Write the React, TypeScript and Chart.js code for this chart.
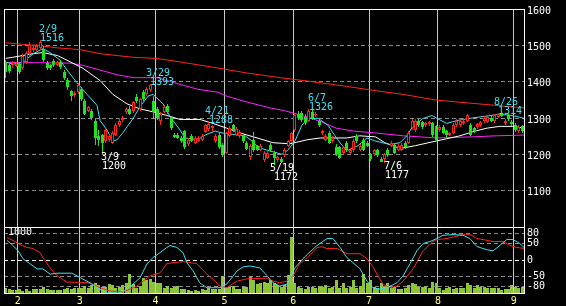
import React, { useEffect, useRef } from 'react';
import { Chart, registerables } from 'chart.js';
Chart.register(...registerables);

const FONT = "'DejaVu Sans Mono', monospace";
const RED = '#ff2418';
const GREEN = '#22e022';
const CYAN = '#40e0f0';
const MAGENTA = '#ff20ff';
const VOL_GREEN = '#8cc43c';

// Trading-day index of the first session of each month, and the month labels
const MONTH_START = [4, 22, 44, 64, 84, 106, 126, 148];
const MONTH_LABELS = ['2', '3', '4', '5', '6', '7', '8', '9'];

// Daily candles: [open, high, low, close]
const CANDLES: number[][] = [
  [1453,1460,1411,1427],[1445,1450,1425,1430],[1446,1458,1438,1450],[1443,1455,1440,1450],[1448,1452,1420,1427],
  [1437,1475,1432,1470],[1453,1485,1450,1478],[1477,1508,1470,1502],[1488,1500,1482,1493],[1487,1504,1484,1498],
  [1493,1516,1488,1510],[1490,1498,1455,1460],[1452,1458,1432,1438],[1445,1450,1432,1438],[1458,1462,1440,1446],
  [1447,1458,1442,1453],[1454,1460,1435,1440],[1427,1432,1404,1411],[1405,1410,1378,1384],[1373,1378,1347,1360],
  [1362,1375,1358,1370],[1371,1397,1366,1392],[1379,1384,1348,1352],[1347,1352,1308,1312],[1320,1334,1316,1331],
  [1320,1325,1294,1299],[1291,1296,1227,1245],[1250,1268,1222,1240],[1253,1256,1200,1232],[1237,1272,1230,1267],
  [1240,1256,1235,1251],[1232,1264,1228,1259],[1253,1285,1250,1280],[1280,1300,1275,1293],[1295,1306,1290,1300],
  [1317,1330,1312,1325],[1325,1333,1308,1312],[1320,1348,1315,1344],[1357,1365,1342,1347],[1325,1356,1320,1352],
  [1371,1376,1348,1352],[1365,1384,1360,1379],[1376,1393,1372,1390],[1347,1360,1299,1317],[1325,1330,1295,1299],
  [1293,1316,1280,1312],[1317,1336,1314,1331],[1334,1339,1312,1317],[1299,1304,1268,1272],[1253,1258,1244,1248],
  [1253,1259,1242,1245],[1245,1250,1232,1237],[1264,1268,1215,1219],[1228,1244,1222,1240],[1251,1255,1234,1237],
  [1232,1250,1228,1245],[1238,1250,1234,1245],[1240,1256,1236,1251],[1262,1284,1258,1280],[1270,1288,1265,1284],
  [1272,1282,1265,1278],[1237,1256,1232,1251],[1253,1262,1215,1219],[1227,1232,1192,1197],[1205,1262,1200,1259],
  [1251,1278,1248,1272],[1280,1284,1262,1267],[1253,1275,1250,1270],[1250,1268,1245,1262],[1253,1258,1230,1237],
  [1232,1236,1212,1216],[1192,1228,1184,1224],[1240,1262,1206,1211],[1222,1226,1208,1213],[1213,1228,1208,1224],
  [1184,1210,1180,1205],[1190,1210,1186,1205],[1227,1232,1206,1211],[1205,1210,1172,1190],[1185,1196,1180,1192],
  [1187,1192,1176,1180],[1197,1218,1192,1213],[1224,1240,1220,1237],[1237,1262,1232,1259],[1267,1312,1262,1307],
  [1312,1318,1294,1299],[1315,1320,1290,1295],[1304,1310,1282,1285],[1293,1326,1288,1320],[1317,1322,1294,1299],
  [1307,1316,1302,1312],[1291,1295,1276,1280],[1259,1268,1254,1264],[1240,1256,1236,1251],[1259,1264,1228,1232],
  [1237,1250,1232,1245],[1219,1228,1196,1200],[1219,1224,1186,1190],[1205,1222,1200,1219],[1232,1236,1206,1211],
  [1205,1218,1200,1213],[1211,1242,1206,1237],[1251,1256,1232,1237],[1213,1228,1210,1224],[1240,1245,1208,1213],
  [1232,1236,1220,1224],[1200,1205,1182,1187],[1200,1215,1196,1211],[1211,1216,1192,1197],[1187,1192,1178,1180],
  [1187,1205,1177,1200],[1213,1218,1192,1197],[1224,1236,1220,1232],[1227,1232,1200,1205],[1211,1228,1208,1224],
  [1213,1232,1210,1227],[1232,1236,1215,1219],[1232,1264,1228,1259],[1272,1296,1268,1291],[1267,1296,1262,1291],
  [1293,1297,1276,1280],[1288,1292,1270,1275],[1280,1290,1276,1285],[1283,1293,1279,1288],[1285,1290,1248,1253],
  [1277,1282,1236,1240],[1267,1280,1262,1275],[1275,1280,1255,1259],[1264,1268,1248,1253],[1253,1262,1250,1259],
  [1259,1285,1255,1280],[1280,1298,1275,1293],[1280,1298,1276,1293],[1285,1300,1280,1293],[1293,1312,1290,1307],
  [1280,1285,1250,1253],[1272,1276,1260,1264],[1275,1287,1270,1283],[1280,1292,1276,1288],[1291,1305,1287,1301],
  [1288,1308,1285,1304],[1301,1305,1288,1293],[1291,1310,1287,1307],[1303,1314,1300,1311],[1312,1313,1302,1306],
  [1285,1297,1280,1293],[1307,1310,1292,1296],[1290,1295,1278,1283],[1280,1285,1262,1267],[1265,1280,1260,1275],
  [1277,1282,1258,1264],
];

// Daily volume (thousand shares)
const VOLUME = [
  70,60,45,45,55,35,55,35,55,65, 65,85,60,50,40,40,45,65,80,65,
  70,80,80,105,70,120,145,120,85,95, 135,120,70,95,120,145,285,135,70,105,
  220,195,205,170,145,145,80,105,70,95, 105,55,55,45,35,45,35,65,45,70,
  65,60,60,255,95,95,105,55,55,85, 95,245,195,135,145,160,145,195,145,120,
  95,120,270,845,145,95,70,55,95,95, 70,105,95,120,70,95,195,70,145,70,
  95,195,80,110,295,145,195,95,70,145, 95,145,70,95,60,60,80,120,145,135,
  95,95,105,70,170,155,70,45,70,95, 60,70,70,70,145,120,70,120,95,95,
  70,70,70,70,45,55,55,120,95,70, 95,
];
const VOL_MAX = 1000;

// Moving averages: [day index, price]
const MA_SHORT = [
  [0.4,1453],[2.1,1448],[5,1453],[8,1477],[10.8,1491],[12.9,1480],[15.8,1459],[17.8,1432],[20.7,1397],[23.6,1365],
  [26.5,1335],[27.4,1293],[29.4,1267],[31.1,1237],[32.3,1240],[34,1259],[37,1299],[39,1331],[41.3,1360],[42.8,1365],
  [45.7,1339],[47.7,1304],[50.6,1267],[52.1,1245],[55.8,1240],[57.9,1253],[60.8,1264],[62.8,1259],[67.4,1253],[69.5,1251],
  [71.5,1237],[73.3,1219],[76.1,1211],[80.2,1200],[81.9,1211],[84,1237],[86,1280],[87.8,1299],[90.7,1299],[93.6,1280],
  [95.6,1251],[97.7,1224],[99.4,1211],[102.3,1224],[104.9,1245],[107.2,1237],[111.6,1227],[114.5,1232],[116.5,1251],[118.2,1277],
  [121.2,1299],[123.8,1307],[125.2,1299],[128.1,1285],[131,1293],[134.8,1299],[138.6,1304],[142.6,1309],[145.5,1309],[148.5,1304],
  [150.5,1299],
];
const MA_MID = [
  [0,1464],[2,1467],[8,1477],[10.8,1480],[15,1472],[17.8,1459],[22.4,1437],[27.4,1403],[31.1,1365],[35.2,1339],
  [39,1325],[42.8,1317],[46.8,1307],[50.6,1296],[56.4,1296],[60.2,1285],[64.2,1272],[68,1259],[73,1245],[77.6,1232],
  [82.5,1229],[87.5,1240],[91.3,1245],[99,1245],[102.8,1251],[107.4,1248],[110.1,1232],[114.5,1216],[119,1224],[125.2,1237],
  [131.9,1251],[136.3,1264],[139.7,1272],[143.5,1277],[147.3,1277],[150.5,1272],
];
const MA_LONG = [
  [0,1453],[18.7,1451],[22.4,1445],[27.4,1432],[32.3,1419],[37,1411],[44,1411],[49.7,1395],[55.8,1379],[61.6,1371],
  [64.2,1360],[70,1344],[76.7,1328],[81,1320],[86,1307],[91.3,1291],[96,1272],[101,1264],[107.2,1259],[115.4,1251],
  [125.2,1245],[135,1248],[142.6,1251],[150.5,1253],
];
const MA_XLONG = [
  [0,1507],[10,1499],[15,1493],[21.6,1488],[27.4,1477],[37,1467],[44,1464],[51.5,1453],[60,1440],[70,1424],
  [79.6,1411],[89,1400],[99,1387],[109,1373],[115.4,1365],[125.2,1349],[134.8,1341],[144.4,1333],[150.5,1328],
];

// Oscillator lines (-100..100): [day index, value]
const OSC_FAST = [
  [0.4,59],[2.1,44],[3.6,28],[5,4],[7,-11],[9.1,-27],[10.8,-27],[12.9,-43],[14.9,-40],[19.2,-40],
  [20.7,-48],[22.4,-58],[24.5,-69],[26.5,-84],[28.2,-94],[29.4,-100],[33.2,-100],[35.2,-88],[37,-73],[39,-54],
  [41,-12],[42.8,8],[44.8,22],[46.8,38],[47.7,44],[49.7,38],[51.5,22],[52.6,-8],[54.4,-33],[55.5,-54],
  [56.4,-70],[58.4,-84],[62.2,-84],[64.2,-73],[67.2,-33],[68.9,-21],[70.9,-18],[73.8,-24],[75.9,-48],[77.6,-69],
  [79.6,-79],[81.7,-73],[84,-24],[86.3,4],[87.8,19],[90.4,44],[93.3,65],[95,65],[97.1,38],[99.1,7],
  [100.8,-8],[102.9,-27],[104.9,-64],[106.6,-84],[108.7,-88],[110.7,-84],[113.6,-69],[115.4,-48],[117.4,-11],[119.4,28],
  [121.2,50],[123.2,56],[125.2,65],[127,75],[129.9,77],[132.8,75],[134.8,65],[136.8,41],[139.7,31],[141.5,28],
  [143.5,44],[145.5,62],[147.3,62],[149.3,50],[150.5,38],
];
const OSC_SLOW = [
  [0.4,68],[2.1,59],[4.1,47],[6.2,38],[7.9,35],[10,22],[10.8,7],[12.9,-24],[14.9,-48],[17.8,-67],
  [23.6,-68],[25.3,-74],[27.4,-84],[30.3,-94],[34,-97],[36.1,-88],[38.1,-79],[39.9,-64],[41.9,-48],[44.8,-39],
  [46.8,-11],[48.6,-8],[51.5,-5],[53.5,-8],[55.5,-11],[58.4,-43],[60.2,-58],[62.2,-79],[64.2,-84],[67.2,-64],
  [70.1,-57],[75.9,-55],[77.6,-64],[79.6,-69],[81.7,-64],[83.4,-48],[85.4,-11],[87.5,7],[90.4,38],[91.8,40],
  [93.3,35],[96.2,35],[99.1,19],[102.9,19],[104.9,4],[106.6,-20],[107.8,-43],[109.5,-73],[111.6,-84],[113.6,-79],
  [115.4,-64],[118.3,-27],[121.2,28],[124.1,56],[125.2,62],[128.1,65],[131,72],[132.8,78],[134.8,78],[136.8,65],
  [138.6,62],[141.5,56],[144.4,56],[146.4,44],[148.5,38],[150.5,35],
];
const OSC_TICKS = [-80, -50, 0, 50, 80];

// Annotated highs / lows
const PEAK_IDX = [10, 28, 42, 59, 78, 88, 110, 143];
const PEAK_KIND = ['H', 'L', 'H', 'H', 'L', 'H', 'L', 'H'];
const PEAK_DATE = ['2/9', '3/9', '3/29', '4/21', '5/19', '6/7', '7/6', '8/26'];

const N = CANDLES.length;

// Snap bar elements to whole device pixels so that candles stay crisp
const snapPlugin = {
  id: 'snap',
  beforeDatasetsDraw(chart: any) {
    chart.getSortedVisibleDatasetMetas().forEach((meta: any) => {
      if (meta.type !== 'bar') return;
      meta.data.forEach((el: any) => {
        el.x = Math.floor(el.x) + 0.5;
        el.y = Math.round(el.y);
        el.base = Math.round(el.base);
        if (el.height !== undefined) el.height = el.base - el.y;
      });
    });
  },
};

const framePlugin = {
  id: 'frame',
  afterDraw(chart: any) {
    const { ctx, chartArea: a } = chart;
    ctx.save();
    ctx.strokeStyle = '#ffffff';
    ctx.lineWidth = 1;
    ctx.strokeRect(Math.round(a.left) + 0.5, Math.round(a.top) + 0.5,
      Math.round(a.right - a.left), Math.round(a.bottom - a.top));
    ctx.restore();
  },
};

const peakPlugin = {
  id: 'peaks',
  afterDatasetsDraw(chart: any) {
    const { ctx } = chart;
    const xs = chart.scales.x;
    const ys = chart.scales.y;
    ctx.save();
    ctx.font = `10px ${FONT}`;
    ctx.textAlign = 'center';
    ctx.textBaseline = 'middle';
    PEAK_IDX.forEach((idx, k) => {
      const high = PEAK_KIND[k] === 'H';
      const price = high ? CANDLES[idx][1] : CANDLES[idx][2];
      const px = xs.getPixelForValue(idx);
      const py = ys.getPixelForValue(price);
      ctx.fillStyle = high ? CYAN : '#ffffff';
      const dy = high ? py - 11 : py + 3;
      const vy = high ? py - 2 : py + 12;
      ctx.fillText(PEAK_DATE[k], Math.round(px + 8), Math.round(dy));
      ctx.fillText(String(price), Math.round(px + 12), Math.round(vy));
    });
    ctx.restore();
  },
};

const volLabelPlugin = {
  id: 'volLabel',
  afterDraw(chart: any) {
    const { ctx, chartArea: a } = chart;
    ctx.save();
    ctx.font = `10px ${FONT}`;
    ctx.fillStyle = '#ffffff';
    ctx.textAlign = 'left';
    ctx.textBaseline = 'middle';
    ctx.fillText(String(VOL_MAX), a.left + 4, a.top + 5);
    ctx.restore();
  },
};

function monthGridX(showLabels: boolean) {
  return {
    type: 'linear' as const,
    min: -0.5,
    max: N - 0.5,
    offset: false,
    afterFit(s: any) { s.height = showLabels ? 13 : 0; },
    afterBuildTicks(s: any) { s.ticks = MONTH_START.map((m) => ({ value: m - 0.5 })); },
    ticks: {
      display: showLabels,
      autoSkip: false,
      maxRotation: 0,
      padding: 2,
      color: '#ffff80',
      font: { size: 10, family: FONT },
      callback: (_v: any, i: number) => MONTH_LABELS[i],
    },
    grid: { offset: false, drawTicks: false, color: '#c8c8c8', lineWidth: 1 },
    border: { display: false },
  };
}

export default function App() {
  const mainRef = useRef<HTMLCanvasElement>(null);
  const lowRef = useRef<HTMLCanvasElement>(null);

  useEffect(() => {
    const up = CANDLES.map((c) => c[3] >= c[0]);
    const line = (pts: number[][], color: string, order: number, yAxisID = 'y') => ({
      type: 'line' as const,
      data: pts.map(([x, y]) => ({ x, y })),
      borderColor: color,
      borderWidth: 1,
      pointRadius: 0,
      fill: false,
      tension: 0,
      order,
      yAxisID,
    });

    const main = new Chart(mainRef.current!, {
      type: 'bar',
      data: {
        datasets: [
          {
            type: 'bar',
            data: CANDLES.map((c, i) => ({ x: i, y: [Math.min(c[0], c[3]), Math.max(c[0], c[3])] })),
            backgroundColor: up.map((u) => (u ? '#000000' : GREEN)),
            borderColor: up.map((u) => (u ? RED : GREEN)),
            borderWidth: 1,
            borderSkipped: false,
            inflateAmount: 0,
            barThickness: 3,
            grouped: false,
            order: 0,
          } as any,
          {
            type: 'bar',
            data: CANDLES.map((c, i) => ({ x: i, y: [c[2], c[1]] })),
            backgroundColor: up.map((u) => (u ? RED : GREEN)),
            borderWidth: 0,
            inflateAmount: 0,
            barThickness: 1,
            grouped: false,
            order: 1,
          } as any,
          line(MA_SHORT, CYAN, 2),
          line(MA_MID, '#ffffff', 3),
          line(MA_LONG, MAGENTA, 4),
          line(MA_XLONG, RED, 5),
        ],
      },
      options: {
        animation: false,
        responsive: false,
        devicePixelRatio: 1,
        events: [],
        layout: { padding: { left: 4, top: 2, right: 0, bottom: 79 } },
        plugins: { legend: { display: false }, tooltip: { enabled: false } },
        scales: {
          x: monthGridX(false) as any,
          y: {
            position: 'right',
            min: 1000,
            max: 1600,
            afterFit(s: any) { s.width = 42; },
            ticks: {
              stepSize: 100,
              color: '#ffffff',
              padding: 3,
              labelOffset: 2,
              font: { size: 10, family: FONT },
              callback: (v: any) => (v === 1000 ? '' : String(v)),
            },
            grid: {
              drawTicks: false,
              lineWidth: 1,
              color: (c: any) => (c.tick && (c.tick.value === 1000 || c.tick.value === 1600) ? 'rgba(0,0,0,0)' : '#8c8c8c'),
            },
            border: { display: false, dash: [4, 3] },
          } as any,
        },
      },
      plugins: [snapPlugin, framePlugin, peakPlugin],
    });

    const low = new Chart(lowRef.current!, {
      type: 'bar',
      data: {
        datasets: [
          line(OSC_FAST, CYAN, 0),
          line(OSC_SLOW, RED, 1),
          {
            type: 'bar',
            data: VOLUME.map((v, i) => ({ x: i, y: v })),
            backgroundColor: VOL_GREEN,
            borderWidth: 0,
            inflateAmount: 0,
            barThickness: 3,
            grouped: false,
            yAxisID: 'yVol',
            order: 5,
          } as any,
        ],
      },
      options: {
        animation: false,
        responsive: false,
        devicePixelRatio: 1,
        events: [],
        layout: { padding: { left: 4, top: 227, right: 0, bottom: 0 } },
        plugins: { legend: { display: false }, tooltip: { enabled: false } },
        scales: {
          x: monthGridX(true) as any,
          y: {
            position: 'right',
            min: -100,
            max: 100,
            afterFit(s: any) { s.width = 42; },
            afterBuildTicks(s: any) { s.ticks = OSC_TICKS.map((v) => ({ value: v })); },
            ticks: {
              color: '#ffffff',
              padding: 3,
              font: { size: 10, family: FONT },
              callback: (v: any) => String(v),
            },
            grid: {
              drawTicks: false,
              lineWidth: 1,
              color: (c: any) => (c.tick && c.tick.value === 0 ? '#ffffff' : '#8c8c8c'),
            },
            border: { display: false, dash: [4, 3] },
          } as any,
          yVol: {
            position: 'left',
            display: false,
            min: 0,
            max: VOL_MAX,
          } as any,
        },
      },
      plugins: [snapPlugin, framePlugin, volLabelPlugin],
    });

    return () => {
      main.destroy();
      low.destroy();
    };
  }, []);

  return (
    <div style={{ position: 'fixed', left: 0, top: 0, width: 566, height: 306, background: '#000', overflow: 'hidden' }}>
      <canvas ref={mainRef} width={566} height={306} style={{ position: 'absolute', left: 0, top: 0 }} />
      <canvas ref={lowRef} width={566} height={306} style={{ position: 'absolute', left: 0, top: 0 }} />
    </div>
  );
}
